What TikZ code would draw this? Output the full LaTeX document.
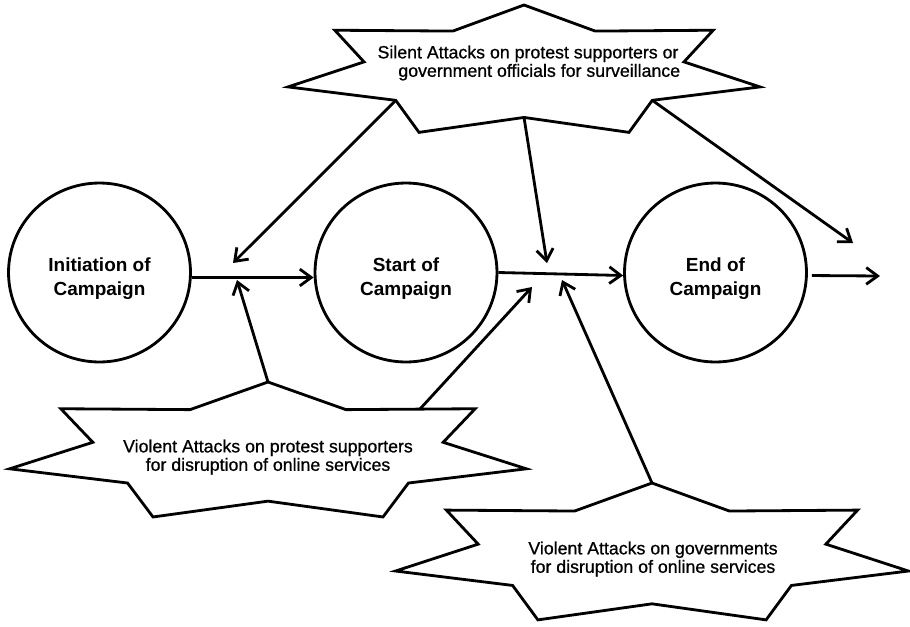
\documentclass[tikz,border=0pt]{standalone}
\usepackage{fontspec}
\setmainfont{Liberation Sans}
\newfontfamily\burstfont[FakeBold=0.8]{Liberation Sans}
\usetikzlibrary{arrows.meta,shapes.geometric}

\begin{document}
\begin{tikzpicture}[x=0.02cm,y=-0.02cm,
		phase/.style={draw,ellipse,minimum width=3.64cm,minimum height=3.58cm,line width=1.6pt,inner sep=0pt},
		phasetext/.style={align=center,yshift=-0.12cm,font=\bfseries\fontsize{10.8}{13.8}\selectfont},
		burst/.style={draw,line width=1.6pt,line join=miter},
		bursttext/.style={align=center,font=\burstfont\fontsize{10.1}{10.5}\selectfont},
		flow/.style={->,>={Straight Barb[length=6.5pt,width=9.5pt]},line width=1.6pt}]
			\useasboundingbox (0,0) rectangle (910,626);
			
			\node[phase,label={[phasetext]center:Initiation of\\Campaign}] (init) at (99.5,272.5) {};
			\node[phase,label={[phasetext]center:Start of\\Campaign}] (start) at (406,272.5) {};
			\node[phase,label={[phasetext]center:End of\\Campaign}] (finish) at (715.5,272.5) {};
			
			\begin{scope}[shift={(524,72)}]
				\draw[burst] (-90:242 and 67) \foreach \k in {1,...,13} {-- ({-90-\k*180/7}:{242*(1-0.322*mod(\k,2))} and {67*(1-0.322*mod(\k,2))})} -- cycle;
				\coordinate (silent-l) at (-218.57:{242*0.678} and {67*0.678});
				\coordinate (silent-b) at (-270:{242*0.678} and {67*0.678});
				\coordinate (silent-r) at (-321.43:{242*0.678} and {67*0.678});
			\end{scope}
			\begin{scope}[shift={(268,453)}]
				\draw[burst] (-90:265 and 71) \foreach \k in {1,...,13} {-- ({-90-\k*180/7}:{265*(1-0.322*mod(\k,2))} and {71*(1-0.322*mod(\k,2))})} -- cycle;
				\coordinate (people-t) at (-90:265 and 71);
				\coordinate (people-e) at (152,-44);
			\end{scope}
			\begin{scope}[shift={(652,555)}]
				\draw[burst] (-90:263 and 72) \foreach \k in {1,...,13} {-- ({-90-\k*180/7}:{263*(1-0.322*mod(\k,2))} and {72*(1-0.322*mod(\k,2))})} -- cycle;
				\coordinate (gov-t) at (-90:263 and 72);
			\end{scope}
			
			\node[bursttext] (silent) at (528,63) {Silent Attacks on protest supporters or\\\hspace*{0.45cm}government officials for surveillance};
			\node[bursttext] (people) at (268,457) {Violent Attacks on protest supporters\\for disruption of online services};
			\node[bursttext] (gov) at (653,559) {Violent Attacks on governments\\for disruption of online services};
			
			\coordinate (hit1a) at (233,263);
			\coordinate (hit1b) at (237,280);
			\coordinate (hit2a) at (547,263);
			\coordinate (hit2b) at (532,287);
			\coordinate (hit2c) at (562,280);
			\coordinate (hit3) at (853,243);
			\coordinate (exit) at (880,276);
			
			\draw[flow] ([yshift=-0.1cm]init.east) -- ([yshift=-0.1cm]start.west);
			\draw[flow] (start.east) -- ([yshift=-0.06cm]finish.west);
			\draw[flow,shorten <=0.08cm] ([yshift=-0.06cm]finish.east) -- (exit);
			
			\draw[flow] (silent-l) -- (hit1a);
			\draw[flow] (silent-b) -- (hit2a);
			\draw[flow] (silent-r) -- (hit3);
			\draw[flow] (people-t) -- (hit1b);
			\draw[flow] (people-e) -- (hit2b);
			\draw[flow] (gov-t) -- (hit2c);
		\end{tikzpicture}
\end{document}
